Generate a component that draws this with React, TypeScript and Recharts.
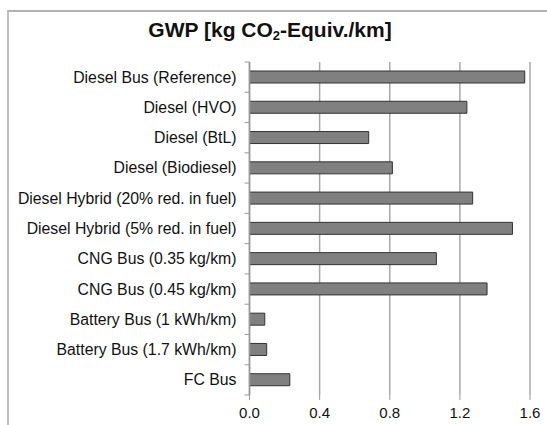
import React from 'react'
import { BarChart, Bar, XAxis, YAxis, CartesianGrid } from 'recharts'

const categories = [
  'Diesel Bus (Reference)',
  'Diesel (HVO)',
  'Diesel (BtL)',
  'Diesel (Biodiesel)',
  'Diesel Hybrid (20% red. in fuel)',
  'Diesel Hybrid (5% red. in fuel)',
  'CNG Bus (0.35 kg/km)',
  'CNG Bus (0.45 kg/km)',
  'Battery Bus (1 kWh/km)',
  'Battery Bus (1.7 kWh/km)',
  'FC Bus',
]
const gwp = [1.57, 1.24, 0.68, 0.815, 1.273, 1.5, 1.066, 1.355, 0.087, 0.098, 0.23]
const xTicks = [0, 0.4, 0.8, 1.2, 1.6]

const data = categories.map((name, i) => ({ name, value: gwp[i] }))

const FONT = '"Liberation Sans", Arial, sans-serif'
const TOP = 62
const BOTTOM = 395
const BAND = (BOTTOM - TOP) / categories.length

function CategoryTick(props: any) {
  const { x, y, payload, index } = props
  return (
    <g>
      <line x1={x - 5} x2={x} y1={y - BAND / 2} y2={y - BAND / 2} stroke="#999" />
      {index === categories.length - 1 && (
        <line x1={x - 5} x2={x} y1={y + BAND / 2} y2={y + BAND / 2} stroke="#999" />
      )}
      <text x={x - 13} y={y} dy={5.5} textAnchor="end" fontSize={15.8} fill="#111" fontFamily={FONT}>
        {payload.value}
      </text>
    </g>
  )
}

export default function App() {
  return (
    <div style={{ position: 'absolute', left: 0, top: 0, width: 547, height: 425, background: '#fff' }}>
      <div
        style={{
          position: 'absolute',
          left: 7,
          top: 10,
          width: 560,
          height: 440,
          borderLeft: '2px solid #c0c0c0',
          borderTop: '2px solid #b0b0b0',
        }}
      />
      <div
        style={{
          position: 'absolute',
          left: 0,
          top: 18,
          width: 540,
          textAlign: 'center',
          fontFamily: FONT,
          fontWeight: 'bold',
          fontSize: 21,
          color: '#111',
        }}
      >
        GWP [kg CO<sub style={{ fontSize: 13, verticalAlign: -3 }}>2</sub>-Equiv./km]
      </div>
      <div style={{ position: 'absolute', left: 0, top: 0 }}>
        <BarChart
          width={547}
          height={425}
          data={data}
          layout="vertical"
          margin={{ top: TOP, right: 17, bottom: 0, left: 0 }}
          barCategoryGap={0}
        >
          <CartesianGrid horizontal={false} stroke="#a8a8a8" strokeWidth={1.5} />
          <XAxis
            type="number"
            domain={[0, 1.6]}
            ticks={xTicks}
            tickFormatter={(v: number) => v.toFixed(1)}
            axisLine={false}
            tickLine={{ stroke: '#999' }}
            tickSize={5}
            tickMargin={7}
            tick={{ fontSize: 15, fill: '#111', fontFamily: FONT }}
            height={30}
            interval={0}
          />
          <YAxis
            type="category"
            dataKey="name"
            width={249.5}
            axisLine={{ stroke: '#999', strokeWidth: 1.5 }}
            tickLine={false}
            tickSize={0}
            tickMargin={0}
            tick={<CategoryTick />}
            interval={0}
          />
          <Bar dataKey="value" fill="#808080" stroke="#333" strokeWidth={1} barSize={12} isAnimationActive={false} />
        </BarChart>
      </div>
    </div>
  )
}
